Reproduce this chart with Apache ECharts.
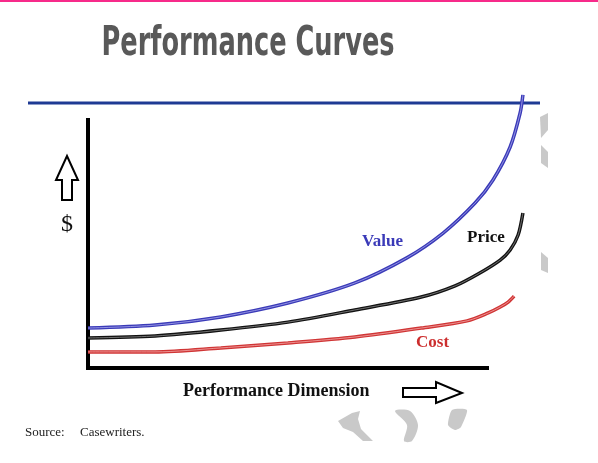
<!DOCTYPE html>
<html>
<head>
<meta charset="utf-8">
<script src="https://cdn.jsdelivr.net/npm/echarts@6/dist/echarts.min.js"></script>
<style>html,body{margin:0;padding:0;background:#fff}#c{width:598px;height:463px}</style>
</head>
<body>
<div id="c"></div>
<script>
// Performance dimension (x) and $ (y)
var valueX = [0, 16.8, 33.3, 50.1, 66.9, 79.9, 89.0, 97.0, 101.5, 105.8, 108.3, 109.0];
var valueY = [16.1, 17.3, 20.6, 26.2, 34.3, 44.4, 54.4, 66.5, 75.8, 89.1, 102.8, 110.1];
var priceX = [0, 16.8, 33.3, 50.1, 66.9, 83.5, 92.0, 98.2, 103.3, 105.8, 107.8, 109.0];
var priceY = [12.1, 12.9, 15.3, 18.5, 23.4, 28.6, 33.1, 38.3, 43.5, 47.6, 53.6, 62.5];
var costX = [0, 16.8, 33.3, 50.1, 66.9, 83.5, 95.0, 100.3, 103.3, 105.3, 106.8];
var costY = [6.5, 6.5, 8.1, 10.1, 12.5, 16.1, 19.0, 22.2, 24.6, 26.6, 29.0];
// drawn axes: y axis runs 0..100, x axis runs 0..100
var axisFrameX = [0, 0, 100];
var axisFrameY = [100, 0, 0];
var seriesNames = ['Value', 'Price', 'Cost'];
var titleText = 'Performance Curves';
var xAxisName = 'Performance Dimension';
var yAxisName = '$';
var sourceText = ['Source:', 'Casewriters.'];

function pairs(xs, ys) { return xs.map(function (x, i) { return [x, ys[i]]; }); }

var chart = echarts.init(document.getElementById('c'));
var curves = [
  { name: seriesNames[0], data: pairs(valueX, valueY), color: '#3a3ab8', inner: '#a8a8ec' },
  { name: seriesNames[1], data: pairs(priceX, priceY), color: '#111111', inner: '#8a8a8a' },
  { name: seriesNames[2], data: pairs(costX, costY), color: '#d03535', inner: '#f2a8a8' }
];
var series = [{
  name: 'axes', type: 'line', data: pairs(axisFrameX, axisFrameY), showSymbol: false, clip: false,
  lineStyle: { color: '#000', width: 4, cap: 'square', join: 'miter' }, silent: true, z: 2
}];
curves.forEach(function (c) {
  series.push({ name: c.name, type: 'line', data: c.data, smooth: 0.3, showSymbol: false, clip: false,
    lineStyle: { color: c.color, width: 3.5 }, silent: true, z: 3 });
  series.push({ name: c.name + ' inner', type: 'line', data: c.data, smooth: 0.3, showSymbol: false, clip: false,
    lineStyle: { color: c.inner, width: 0.8 }, silent: true, z: 4 });
});

var gray = '#c9c9c9';
chart.setOption({
  animation: false,
  grid: { left: 88, right: 71.1, top: 90.2, bottom: 95 },
  xAxis: { type: 'value', min: 0, max: 110,
    axisLine: { show: false }, axisTick: { show: false }, axisLabel: { show: false }, splitLine: { show: false } },
  yAxis: { type: 'value', min: 0, max: 112,
    axisLine: { show: false }, axisTick: { show: false }, axisLabel: { show: false }, splitLine: { show: false } },
  series: series,
  graphic: [
    { type: 'rect', shape: { x: 0, y: 0, width: 598, height: 2 }, style: { fill: '#f72a8a' } },
    { type: 'text', x: 248, y: 44.5, scaleX: 0.695, style: { text: titleText, fill: '#595959', align: 'center', verticalAlign: 'middle',
      font: 'bold 41px "DejaVu Sans Condensed", "DejaVu Sans", sans-serif' } },
    { type: 'line', shape: { x1: 28, y1: 103, x2: 540, y2: 103 }, style: { stroke: '#1e3a94', lineWidth: 3 }, z: 1 },
    // decorative gray pieces
    { type: 'polygon', shape: { points: [[540,117],[548,113],[548,130],[541,138]] }, style: { fill: gray } },
    { type: 'polygon', shape: { points: [[541,145],[548,152],[548,168],[541,163]] }, style: { fill: gray } },
    { type: 'polygon', shape: { points: [[541,252],[548,258],[548,273],[541,270]] }, style: { fill: gray } },
    { type: 'polygon', shape: { points: [[338,421],[352,413],[360,411],[358,419],[361,429],[373,441],[363,441],[353,432],[343,428]] }, style: { fill: gray } },
    { type: 'polygon', shape: { smooth: 0.3, points: [[395,411],[410,411],[418,425],[412,441],[404,441],[407,425]] }, style: { fill: gray } },
    { type: 'polygon', shape: { smooth: 0.2, points: [[452,410],[467,410],[461,427],[455,430],[448,425]] }, style: { fill: gray } },
    // up arrow + $
    { type: 'polygon', shape: { points: [[67,156],[78,180],[72,180],[72,200],[62,200],[62,180],[56,180]] },
      style: { fill: '#fff', stroke: '#000', lineWidth: 2 } },
    { type: 'text', x: 67, y: 225, style: { text: yAxisName, fill: '#111', align: 'center', verticalAlign: 'middle',
      font: '24px "Liberation Serif", serif' } },
    // right arrow + axis name
    { type: 'polygon', shape: { points: [[403,388],[436,388],[436,382],[462,393],[436,403],[436,397],[403,397]] },
      style: { fill: '#fff', stroke: '#000', lineWidth: 2 } },
    { type: 'text', x: 183, y: 391, style: { text: xAxisName, fill: '#111', align: 'left', verticalAlign: 'middle',
      font: 'bold 18px "Liberation Serif", serif' } },
    // curve labels
    { type: 'text', x: 362, y: 242, style: { text: seriesNames[0], fill: '#3a3ab8', verticalAlign: 'middle', font: 'bold 17px "Liberation Serif", serif' } },
    { type: 'text', x: 467, y: 238, style: { text: seriesNames[1], fill: '#111', verticalAlign: 'middle', font: 'bold 17px "Liberation Serif", serif' } },
    { type: 'text', x: 416, y: 343, style: { text: seriesNames[2], fill: '#cc2e2e', verticalAlign: 'middle', font: 'bold 17px "Liberation Serif", serif' } },
    // source
    { type: 'text', x: 25, y: 433, style: { text: sourceText[0], fill: '#222', verticalAlign: 'middle', font: '13px "Liberation Serif", serif' } },
    { type: 'text', x: 80, y: 433, style: { text: sourceText[1], fill: '#222', verticalAlign: 'middle', font: '13px "Liberation Serif", serif' } }
  ]
});
</script>
</body>
</html>
